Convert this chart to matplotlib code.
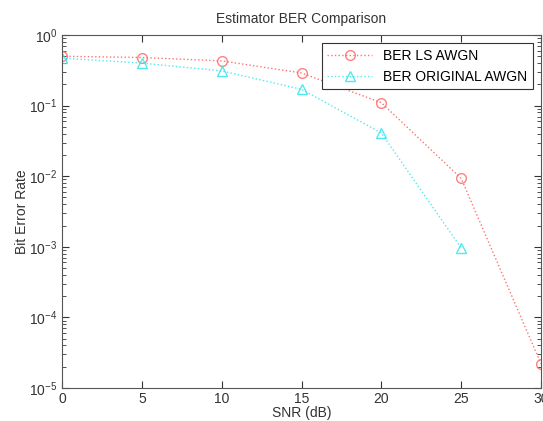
import matplotlib
matplotlib.use("Agg")
import matplotlib.pyplot as plt
import numpy as np

plt.rcParams['font.family'] = ['Liberation Sans', 'DejaVu Sans']

snr_ls = [0, 5, 10, 15, 20, 25, 30]
ber_ls = [0.50, 0.48, 0.43, 0.29, 0.11, 0.0093, 2.2e-5]

snr_orig = [0, 5, 10, 15, 20, 25]
ber_orig = [0.47, 0.40, 0.31, 0.17, 0.041, 0.00096]

labels = ["BER LS AWGN", "BER ORIGINAL AWGN"]

fig = plt.figure(figsize=(5.43, 4.21), dpi=100)
ax = fig.add_axes([62 / 543, 1 - 388 / 421, 479 / 543, 353 / 421])

ax.semilogy(snr_ls, ber_ls, linestyle=':', color='#ff5a5a', marker='o',
            markersize=7, markerfacecolor='none', markeredgecolor='#ff6b6b',
            linewidth=1, alpha=0.85, label=labels[0])
ax.semilogy(snr_orig, ber_orig, linestyle=':', color='#33e6ee', marker='^',
            markersize=7, markerfacecolor='none', markeredgecolor='#33e6ee',
            linewidth=1, alpha=0.85, label=labels[1])

ax.set_xlim(0, 30)
ax.set_ylim(1e-5, 1)
ax.set_xticks(np.arange(0, 31, 5))
ax.set_title("Estimator BER Comparison", fontsize=10, color='#333333', pad=9)
ax.set_xlabel("SNR (dB)", fontsize=10, color='#333333', labelpad=0)
ax.set_ylabel("Bit Error Rate", fontsize=10, color='#333333', labelpad=0)

ax.tick_params(which='both', direction='in', top=True, right=True,
               labelsize=10, colors='#333333')
ax.tick_params(which='major', length=5)
ax.tick_params(which='minor', length=3)
ax.tick_params(axis='x', pad=3)
for s in ax.spines.values():
    s.set_color('#555555')

leg = ax.legend(loc='upper right', fontsize=10, fancybox=False,
                edgecolor='#333333', framealpha=1, handlelength=3.2,
                borderaxespad=0.6)
leg.get_frame().set_linewidth(0.8)

fig.savefig("out.png", dpi=100)
